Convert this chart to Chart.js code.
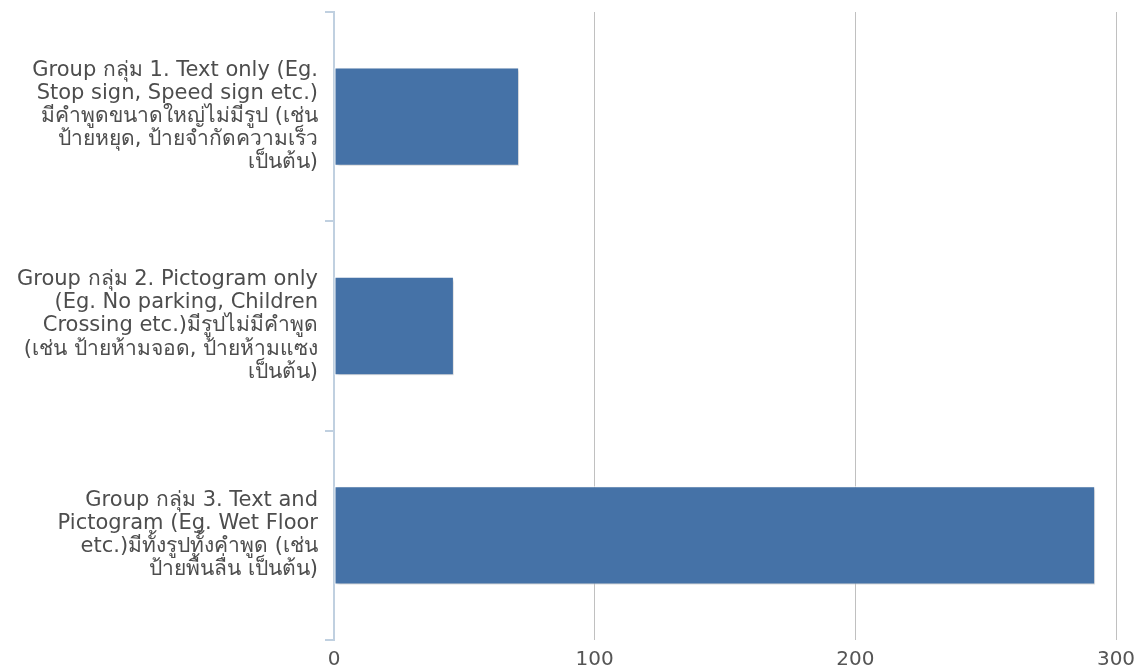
<!DOCTYPE html>
<html lang="th">
<head>
    <meta charset="UTF-8">
    <title>Sign groups</title>
    <script src="https://cdn.jsdelivr.net/npm/chart.js"></script>
    <style>
        html, body { margin: 0; padding: 0; background: #fff; }
        #wrap { width: 1143px; height: 670px; }
    </style>
</head>
<body>
    <div id="wrap"><canvas id="grafico" width="1143" height="670"></canvas></div>

    <script>
    // categories, one array of lines per label
    const categorias = [
        ['Group กลุ่ม 1. Text only (Eg.', 'Stop sign, Speed sign etc.)', 'มีคำพูดขนาดใหญ่ไม่มีรูป (เช่น', 'ป้ายหยุด, ป้ายจำกัดความเร็ว', 'เป็นต้น)'],
        ['Group กลุ่ม 2. Pictogram only', '(Eg. No parking, Children', 'Crossing etc.)มีรูปไม่มีคำพูด', '(เช่น ป้ายห้ามจอด, ป้ายห้ามแซง', 'เป็นต้น)'],
        ['Group กลุ่ม 3. Text and', 'Pictogram (Eg. Wet Floor', 'etc.)มีทั้งรูปทั้งคำพูด (เช่น', 'ป้ายพื้นลื่น เป็นต้น)']
    ];
    const valores = [71, 46, 292];
    const ticksX = [0, 100, 200, 300];

    const fonte = '"Lucida Grande", "DejaVu Sans", "Noto Sans", sans-serif';

    // sombra leve nas barras
    const sombra = {
        id: 'sombra',
        beforeDatasetsDraw(chart) {
            const ctx = chart.ctx;
            ctx.save();
            ctx.shadowColor = 'rgba(0,0,0,0.18)';
            ctx.shadowBlur = 3;
            ctx.shadowOffsetX = 2;
            ctx.shadowOffsetY = 2;
        },
        afterDatasetsDraw(chart) {
            chart.ctx.restore();
        }
    };

    const ctx = document.getElementById('grafico').getContext('2d');
    const chart = new Chart(ctx, {
        type: 'bar',
        data: {
            labels: categorias,
            datasets: [{
                data: valores,
                backgroundColor: '#4572A7',
                borderColor: '#ffffff',
                borderWidth: 1,
                borderSkipped: false,
                barPercentage: 0.47,
                categoryPercentage: 1
            }]
        },
        options: {
            indexAxis: 'y',
            responsive: false,
            animation: false,
            layout: { padding: { top: 12, right: 27, left: 0, bottom: 0 } },
            plugins: { legend: { display: false }, tooltip: { enabled: false } },
            scales: {
                x: {
                    min: 0, max: 300,
                    afterBuildTicks: (s) => { s.ticks = ticksX.map(v => ({ value: v })); },
                    afterFit: (s) => { s.height = 30; s.paddingLeft = 0; s.paddingRight = 0; },
                    border: { display: false },
                    grid: { color: '#c0c0c0', drawTicks: false },
                    ticks: { color: '#555555', padding: 8, font: { family: fonte, size: 20 } }
                },
                y: {
                    afterFit: (s) => { s.width = 334; s.paddingTop = 0; s.paddingBottom = 0; },
                    border: { display: true, color: '#c0d0e0', width: 2 },
                    grid: { drawOnChartArea: false, color: '#c0d0e0', tickLength: 9, lineWidth: 2 },
                    ticks: { color: '#4d4d4d', padding: 7, font: { family: fonte, size: 21, lineHeight: 1.1 } }
                }
            }
        },
        plugins: [sombra]
    });
    </script>
</body>
</html>
